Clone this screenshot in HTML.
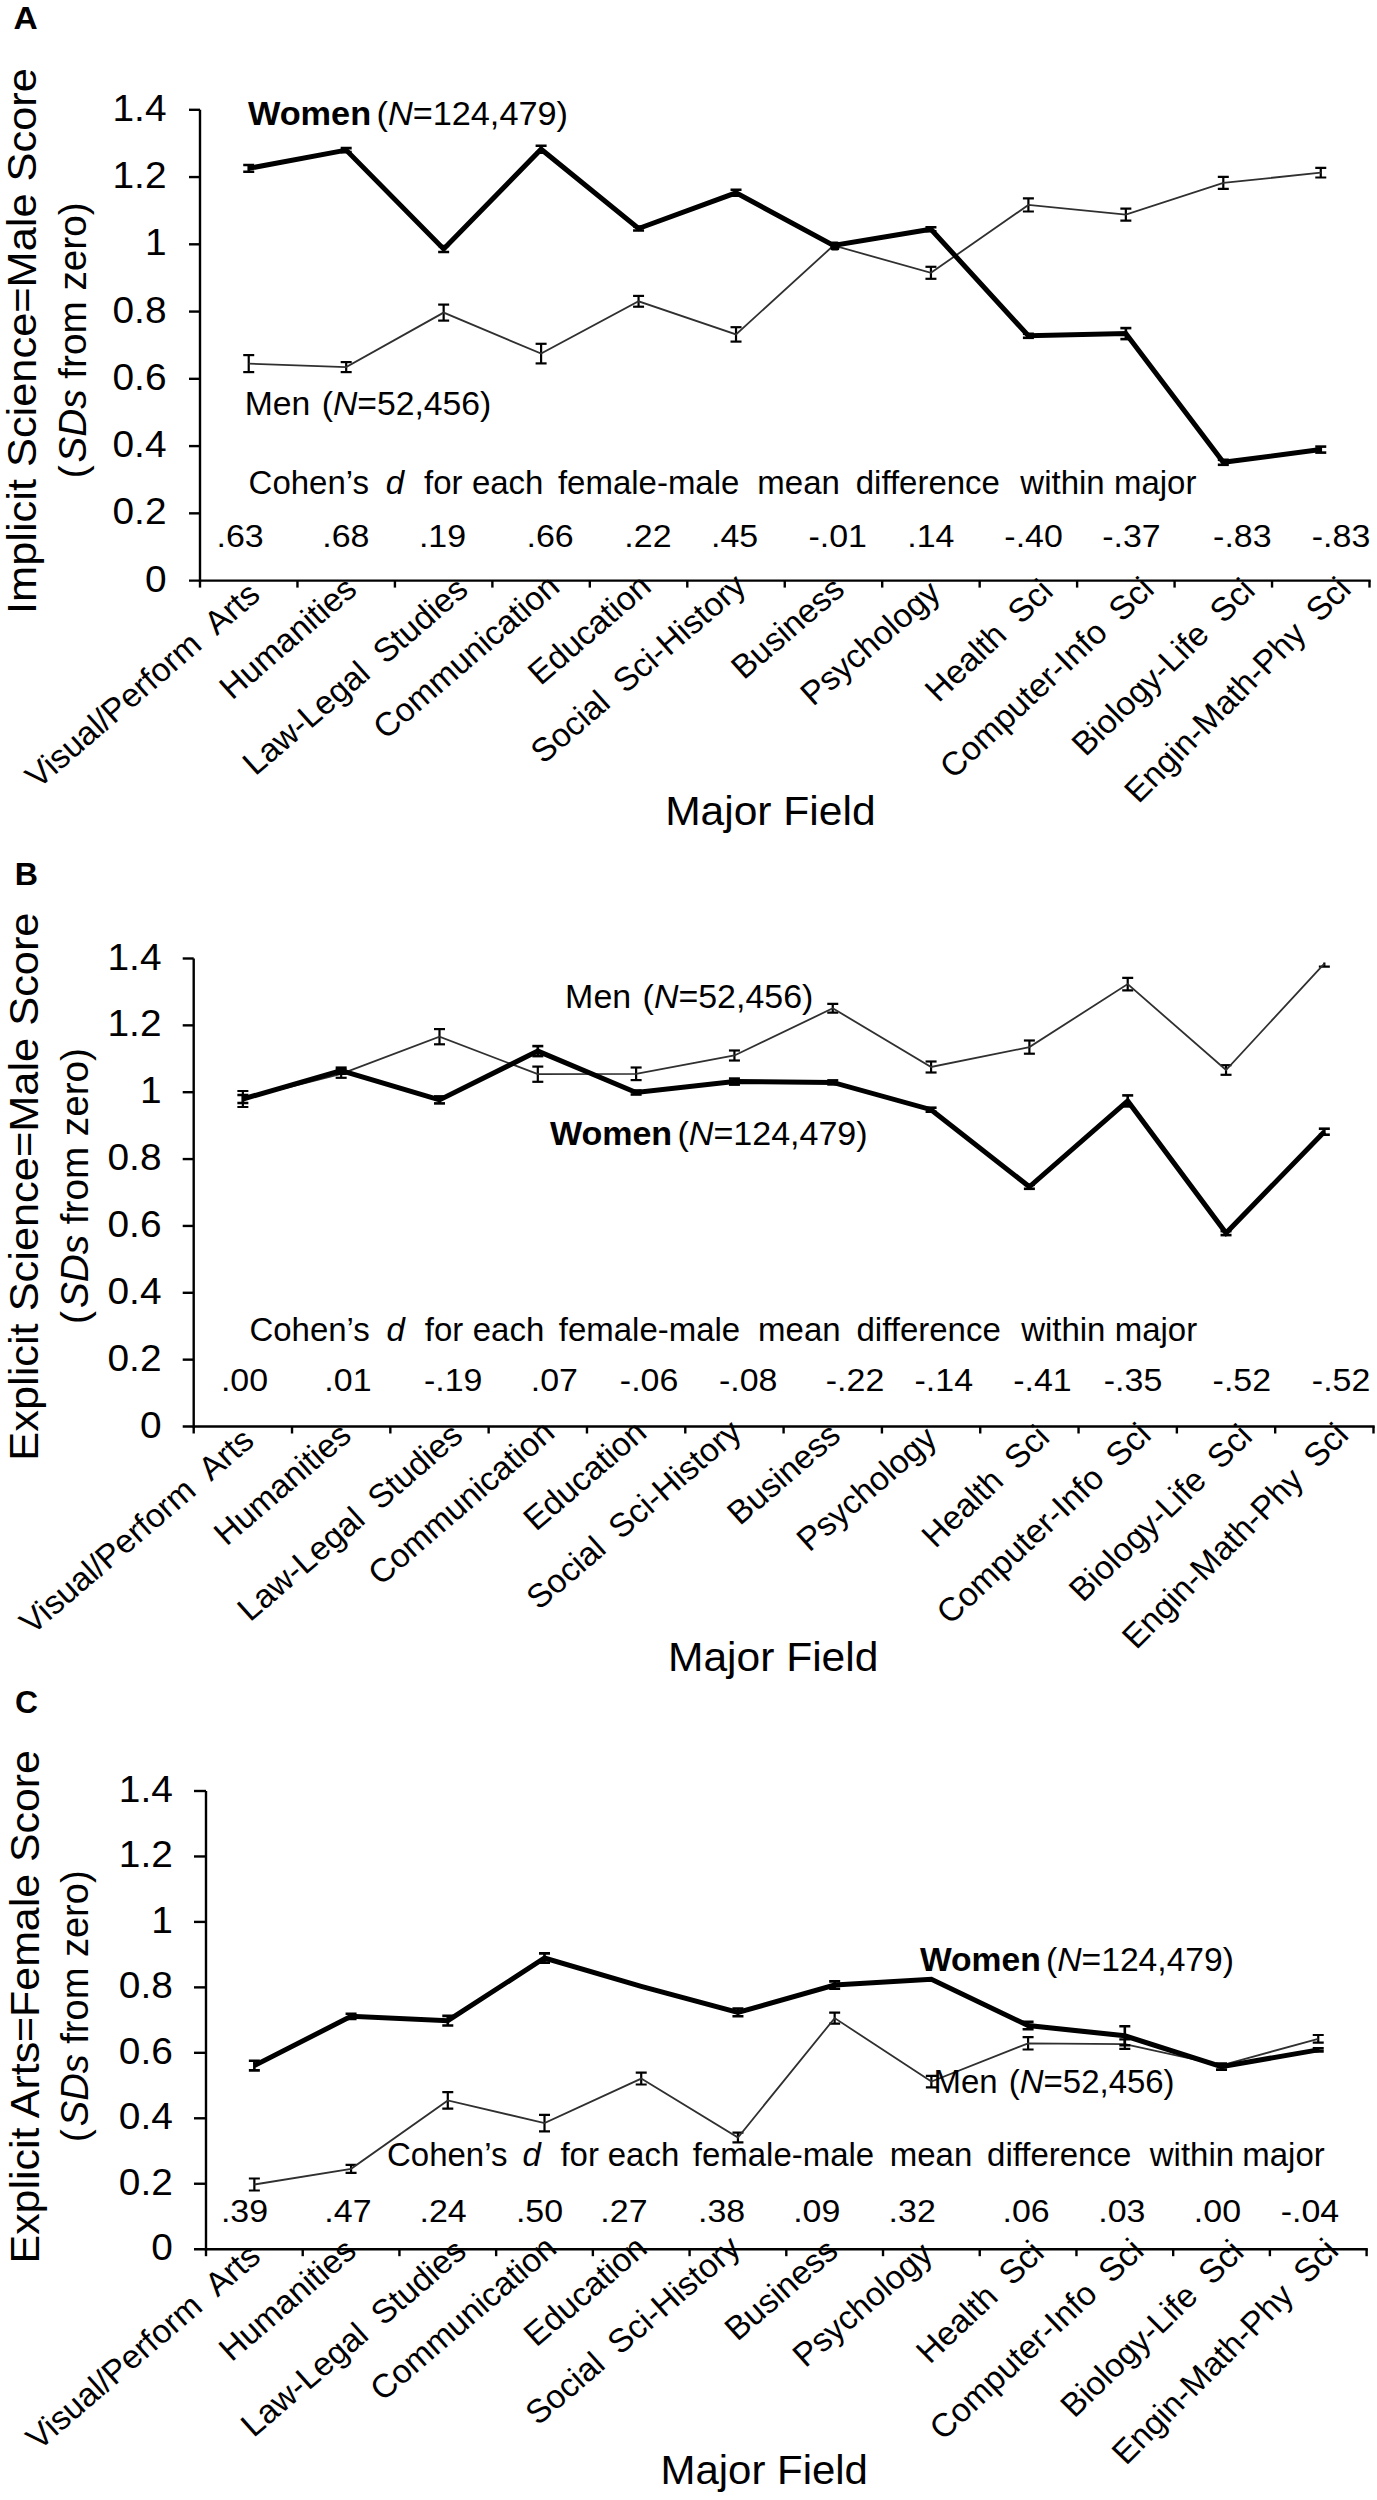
<!DOCTYPE html>
<html><head><meta charset="utf-8"><style>
html,body{margin:0;padding:0;background:#fff;overflow:hidden;width:1377px;height:2500px;}
svg{display:block;}
text{font-family:"Liberation Sans", sans-serif;fill:#000;white-space:pre;}
</style></head><body>
<svg width="1377" height="2500" viewBox="0 0 1377 2500">
<rect width="1377" height="2500" fill="#fff"/>
<line x1="200.00" y1="109.80" x2="200.00" y2="581.80" stroke="#000" stroke-width="2.4"/>
<line x1="189.00" y1="580.60" x2="1370.70" y2="580.60" stroke="#000" stroke-width="2.4"/>
<line x1="189.00" y1="513.34" x2="200.00" y2="513.34" stroke="#000" stroke-width="2.4"/>
<line x1="189.00" y1="446.09" x2="200.00" y2="446.09" stroke="#000" stroke-width="2.4"/>
<line x1="189.00" y1="378.83" x2="200.00" y2="378.83" stroke="#000" stroke-width="2.4"/>
<line x1="189.00" y1="311.57" x2="200.00" y2="311.57" stroke="#000" stroke-width="2.4"/>
<line x1="189.00" y1="244.31" x2="200.00" y2="244.31" stroke="#000" stroke-width="2.4"/>
<line x1="189.00" y1="177.06" x2="200.00" y2="177.06" stroke="#000" stroke-width="2.4"/>
<line x1="189.00" y1="109.80" x2="200.00" y2="109.80" stroke="#000" stroke-width="2.4"/>
<line x1="200.00" y1="580.60" x2="200.00" y2="587.60" stroke="#000" stroke-width="2.4"/>
<line x1="297.46" y1="580.60" x2="297.46" y2="587.60" stroke="#000" stroke-width="2.4"/>
<line x1="394.92" y1="580.60" x2="394.92" y2="587.60" stroke="#000" stroke-width="2.4"/>
<line x1="492.38" y1="580.60" x2="492.38" y2="587.60" stroke="#000" stroke-width="2.4"/>
<line x1="589.83" y1="580.60" x2="589.83" y2="587.60" stroke="#000" stroke-width="2.4"/>
<line x1="687.29" y1="580.60" x2="687.29" y2="587.60" stroke="#000" stroke-width="2.4"/>
<line x1="784.75" y1="580.60" x2="784.75" y2="587.60" stroke="#000" stroke-width="2.4"/>
<line x1="882.21" y1="580.60" x2="882.21" y2="587.60" stroke="#000" stroke-width="2.4"/>
<line x1="979.67" y1="580.60" x2="979.67" y2="587.60" stroke="#000" stroke-width="2.4"/>
<line x1="1077.12" y1="580.60" x2="1077.12" y2="587.60" stroke="#000" stroke-width="2.4"/>
<line x1="1174.58" y1="580.60" x2="1174.58" y2="587.60" stroke="#000" stroke-width="2.4"/>
<line x1="1272.04" y1="580.60" x2="1272.04" y2="587.60" stroke="#000" stroke-width="2.4"/>
<line x1="1369.50" y1="580.60" x2="1369.50" y2="587.60" stroke="#000" stroke-width="2.4"/>
<text transform="translate(166.50,591.60) scale(1.0500,1)" text-anchor="end" style="font-size:37px">0</text>
<text transform="translate(166.50,524.34) scale(1.0500,1)" text-anchor="end" style="font-size:37px">0.2</text>
<text transform="translate(166.50,457.09) scale(1.0500,1)" text-anchor="end" style="font-size:37px">0.4</text>
<text transform="translate(166.50,389.83) scale(1.0500,1)" text-anchor="end" style="font-size:37px">0.6</text>
<text transform="translate(166.50,322.57) scale(1.0500,1)" text-anchor="end" style="font-size:37px">0.8</text>
<text transform="translate(166.50,255.31) scale(1.0500,1)" text-anchor="end" style="font-size:37px">1</text>
<text transform="translate(166.50,188.06) scale(1.0500,1)" text-anchor="end" style="font-size:37px">1.2</text>
<text transform="translate(166.50,120.80) scale(1.0500,1)" text-anchor="end" style="font-size:37px">1.4</text>
<clipPath id="ca"><rect x="200" y="101.8" width="1179.5" height="478.8"/></clipPath>
<g clip-path="url(#ca)">
<line x1="248.73" y1="355.10" x2="248.73" y2="372.10" stroke="#000" stroke-width="2.2"/>
<line x1="243.23" y1="355.10" x2="254.23" y2="355.10" stroke="#000" stroke-width="2.2"/>
<line x1="243.23" y1="372.10" x2="254.23" y2="372.10" stroke="#000" stroke-width="2.2"/>
<line x1="346.19" y1="362.10" x2="346.19" y2="372.10" stroke="#000" stroke-width="2.2"/>
<line x1="340.69" y1="362.10" x2="351.69" y2="362.10" stroke="#000" stroke-width="2.2"/>
<line x1="340.69" y1="372.10" x2="351.69" y2="372.10" stroke="#000" stroke-width="2.2"/>
<line x1="443.65" y1="304.60" x2="443.65" y2="320.60" stroke="#000" stroke-width="2.2"/>
<line x1="438.15" y1="304.60" x2="449.15" y2="304.60" stroke="#000" stroke-width="2.2"/>
<line x1="438.15" y1="320.60" x2="449.15" y2="320.60" stroke="#000" stroke-width="2.2"/>
<line x1="541.10" y1="343.80" x2="541.10" y2="363.40" stroke="#000" stroke-width="2.2"/>
<line x1="535.60" y1="343.80" x2="546.60" y2="343.80" stroke="#000" stroke-width="2.2"/>
<line x1="535.60" y1="363.40" x2="546.60" y2="363.40" stroke="#000" stroke-width="2.2"/>
<line x1="638.56" y1="295.90" x2="638.56" y2="306.70" stroke="#000" stroke-width="2.2"/>
<line x1="633.06" y1="295.90" x2="644.06" y2="295.90" stroke="#000" stroke-width="2.2"/>
<line x1="633.06" y1="306.70" x2="644.06" y2="306.70" stroke="#000" stroke-width="2.2"/>
<line x1="736.02" y1="327.20" x2="736.02" y2="341.60" stroke="#000" stroke-width="2.2"/>
<line x1="730.52" y1="327.20" x2="741.52" y2="327.20" stroke="#000" stroke-width="2.2"/>
<line x1="730.52" y1="341.60" x2="741.52" y2="341.60" stroke="#000" stroke-width="2.2"/>
<line x1="930.94" y1="266.80" x2="930.94" y2="278.80" stroke="#000" stroke-width="2.2"/>
<line x1="925.44" y1="266.80" x2="936.44" y2="266.80" stroke="#000" stroke-width="2.2"/>
<line x1="925.44" y1="278.80" x2="936.44" y2="278.80" stroke="#000" stroke-width="2.2"/>
<line x1="1028.40" y1="198.30" x2="1028.40" y2="211.50" stroke="#000" stroke-width="2.2"/>
<line x1="1022.90" y1="198.30" x2="1033.90" y2="198.30" stroke="#000" stroke-width="2.2"/>
<line x1="1022.90" y1="211.50" x2="1033.90" y2="211.50" stroke="#000" stroke-width="2.2"/>
<line x1="1125.85" y1="208.60" x2="1125.85" y2="220.60" stroke="#000" stroke-width="2.2"/>
<line x1="1120.35" y1="208.60" x2="1131.35" y2="208.60" stroke="#000" stroke-width="2.2"/>
<line x1="1120.35" y1="220.60" x2="1131.35" y2="220.60" stroke="#000" stroke-width="2.2"/>
<line x1="1223.31" y1="176.90" x2="1223.31" y2="188.90" stroke="#000" stroke-width="2.2"/>
<line x1="1217.81" y1="176.90" x2="1228.81" y2="176.90" stroke="#000" stroke-width="2.2"/>
<line x1="1217.81" y1="188.90" x2="1228.81" y2="188.90" stroke="#000" stroke-width="2.2"/>
<line x1="1320.77" y1="167.90" x2="1320.77" y2="177.50" stroke="#000" stroke-width="2.2"/>
<line x1="1315.27" y1="167.90" x2="1326.27" y2="167.90" stroke="#000" stroke-width="2.2"/>
<line x1="1315.27" y1="177.50" x2="1326.27" y2="177.50" stroke="#000" stroke-width="2.2"/>
<path d="M248.73,363.60 L346.19,367.10 L443.65,312.60 L541.10,353.60 L638.56,301.30 L736.02,334.40 L833.48,245.50 L930.94,272.80 L1028.40,204.90 L1125.85,214.60 L1223.31,182.90 L1320.77,172.70" fill="none" stroke="#303030" stroke-width="1.8" stroke-linejoin="miter" stroke-miterlimit="3"/>
<line x1="248.73" y1="165.00" x2="248.73" y2="171.80" stroke="#000" stroke-width="2.6"/>
<line x1="243.23" y1="165.00" x2="254.23" y2="165.00" stroke="#000" stroke-width="2.6"/>
<line x1="243.23" y1="171.80" x2="254.23" y2="171.80" stroke="#000" stroke-width="2.6"/>
<line x1="346.19" y1="148.10" x2="346.19" y2="152.10" stroke="#000" stroke-width="2.6"/>
<line x1="340.69" y1="148.10" x2="351.69" y2="148.10" stroke="#000" stroke-width="2.6"/>
<line x1="340.69" y1="152.10" x2="351.69" y2="152.10" stroke="#000" stroke-width="2.6"/>
<line x1="443.65" y1="246.00" x2="443.65" y2="252.00" stroke="#000" stroke-width="2.6"/>
<line x1="438.15" y1="246.00" x2="449.15" y2="246.00" stroke="#000" stroke-width="2.6"/>
<line x1="438.15" y1="252.00" x2="449.15" y2="252.00" stroke="#000" stroke-width="2.6"/>
<line x1="541.10" y1="145.70" x2="541.10" y2="152.70" stroke="#000" stroke-width="2.6"/>
<line x1="535.60" y1="145.70" x2="546.60" y2="145.70" stroke="#000" stroke-width="2.6"/>
<line x1="535.60" y1="152.70" x2="546.60" y2="152.70" stroke="#000" stroke-width="2.6"/>
<line x1="638.56" y1="226.50" x2="638.56" y2="230.50" stroke="#000" stroke-width="2.6"/>
<line x1="633.06" y1="226.50" x2="644.06" y2="226.50" stroke="#000" stroke-width="2.6"/>
<line x1="633.06" y1="230.50" x2="644.06" y2="230.50" stroke="#000" stroke-width="2.6"/>
<line x1="736.02" y1="189.80" x2="736.02" y2="195.80" stroke="#000" stroke-width="2.6"/>
<line x1="730.52" y1="189.80" x2="741.52" y2="189.80" stroke="#000" stroke-width="2.6"/>
<line x1="730.52" y1="195.80" x2="741.52" y2="195.80" stroke="#000" stroke-width="2.6"/>
<line x1="930.94" y1="227.20" x2="930.94" y2="231.20" stroke="#000" stroke-width="2.6"/>
<line x1="925.44" y1="227.20" x2="936.44" y2="227.20" stroke="#000" stroke-width="2.6"/>
<line x1="925.44" y1="231.20" x2="936.44" y2="231.20" stroke="#000" stroke-width="2.6"/>
<line x1="1028.40" y1="333.80" x2="1028.40" y2="337.80" stroke="#000" stroke-width="2.6"/>
<line x1="1022.90" y1="333.80" x2="1033.90" y2="333.80" stroke="#000" stroke-width="2.6"/>
<line x1="1022.90" y1="337.80" x2="1033.90" y2="337.80" stroke="#000" stroke-width="2.6"/>
<line x1="1125.85" y1="328.10" x2="1125.85" y2="339.10" stroke="#000" stroke-width="2.6"/>
<line x1="1120.35" y1="328.10" x2="1131.35" y2="328.10" stroke="#000" stroke-width="2.6"/>
<line x1="1120.35" y1="339.10" x2="1131.35" y2="339.10" stroke="#000" stroke-width="2.6"/>
<line x1="1223.31" y1="459.80" x2="1223.31" y2="464.80" stroke="#000" stroke-width="2.6"/>
<line x1="1217.81" y1="459.80" x2="1228.81" y2="459.80" stroke="#000" stroke-width="2.6"/>
<line x1="1217.81" y1="464.80" x2="1228.81" y2="464.80" stroke="#000" stroke-width="2.6"/>
<line x1="1320.77" y1="446.60" x2="1320.77" y2="452.60" stroke="#000" stroke-width="2.6"/>
<line x1="1315.27" y1="446.60" x2="1326.27" y2="446.60" stroke="#000" stroke-width="2.6"/>
<line x1="1315.27" y1="452.60" x2="1326.27" y2="452.60" stroke="#000" stroke-width="2.6"/>
<path d="M248.73,168.40 L346.19,150.10 L443.65,249.00 L541.10,149.20 L638.56,228.50 L736.02,192.80 L833.48,245.50 L930.94,229.20 L1028.40,335.80 L1125.85,333.60 L1223.31,462.30 L1320.77,449.60" fill="none" stroke="#000" stroke-width="5.0" stroke-linejoin="miter" stroke-miterlimit="3"/>
<rect x="830.40" y="241.40" width="9" height="9" rx="2" fill="#000"/>
</g>
<text transform="translate(261.83,597.50) scale(1.0200,1) rotate(-41.2)" text-anchor="end" style="font-size:33px">Visual/Perform<tspan dx="8"> </tspan>Arts</text>
<text transform="translate(358.79,592.10) scale(1.0200,1) rotate(-41.2)" text-anchor="end" style="font-size:33px">Humanities</text>
<text transform="translate(469.85,592.50) scale(1.0200,1) rotate(-41.2)" text-anchor="end" style="font-size:33px">Law-Legal<tspan dx="8"> </tspan>Studies</text>
<text transform="translate(561.60,589.60) scale(1.0200,1) rotate(-41.2)" text-anchor="end" style="font-size:33px">Communication</text>
<text transform="translate(653.16,589.50) scale(1.0200,1) rotate(-41.2)" text-anchor="end" style="font-size:33px">Education</text>
<text transform="translate(747.82,589.20) scale(1.0200,1) rotate(-41.2)" text-anchor="end" style="font-size:33px">Social<tspan dx="8"> </tspan>Sci-History</text>
<text transform="translate(846.48,592.20) scale(1.0200,1) rotate(-41.2)" text-anchor="end" style="font-size:33px">Business</text>
<text transform="translate(942.54,595.80) scale(1.0200,1) rotate(-41.2)" text-anchor="end" style="font-size:33px">Psychology</text>
<text transform="translate(1054.80,593.40) scale(1.0200,1) rotate(-44)" text-anchor="end" style="font-size:33px">Health<tspan dx="8"> </tspan>Sci</text>
<text transform="translate(1155.85,591.40) scale(1.0200,1) rotate(-43.5)" text-anchor="end" style="font-size:33px">Computer-Info<tspan dx="8"> </tspan>Sci</text>
<text transform="translate(1256.81,592.40) scale(1.0200,1) rotate(-44.5)" text-anchor="end" style="font-size:33px">Biology-Life<tspan dx="8"> </tspan>Sci</text>
<text transform="translate(1352.77,590.90) scale(1.0200,1) rotate(-45.5)" text-anchor="end" style="font-size:33px">Engin-Math-Phy<tspan dx="8"> </tspan>Sci</text>
<line x1="193.70" y1="958.50" x2="193.70" y2="1427.70" stroke="#000" stroke-width="2.4"/>
<line x1="182.70" y1="1426.50" x2="1374.70" y2="1426.50" stroke="#000" stroke-width="2.4"/>
<line x1="182.70" y1="1359.64" x2="193.70" y2="1359.64" stroke="#000" stroke-width="2.4"/>
<line x1="182.70" y1="1292.79" x2="193.70" y2="1292.79" stroke="#000" stroke-width="2.4"/>
<line x1="182.70" y1="1225.93" x2="193.70" y2="1225.93" stroke="#000" stroke-width="2.4"/>
<line x1="182.70" y1="1159.07" x2="193.70" y2="1159.07" stroke="#000" stroke-width="2.4"/>
<line x1="182.70" y1="1092.21" x2="193.70" y2="1092.21" stroke="#000" stroke-width="2.4"/>
<line x1="182.70" y1="1025.36" x2="193.70" y2="1025.36" stroke="#000" stroke-width="2.4"/>
<line x1="182.70" y1="958.50" x2="193.70" y2="958.50" stroke="#000" stroke-width="2.4"/>
<line x1="193.70" y1="1426.50" x2="193.70" y2="1433.50" stroke="#000" stroke-width="2.4"/>
<line x1="292.02" y1="1426.50" x2="292.02" y2="1433.50" stroke="#000" stroke-width="2.4"/>
<line x1="390.33" y1="1426.50" x2="390.33" y2="1433.50" stroke="#000" stroke-width="2.4"/>
<line x1="488.65" y1="1426.50" x2="488.65" y2="1433.50" stroke="#000" stroke-width="2.4"/>
<line x1="586.97" y1="1426.50" x2="586.97" y2="1433.50" stroke="#000" stroke-width="2.4"/>
<line x1="685.28" y1="1426.50" x2="685.28" y2="1433.50" stroke="#000" stroke-width="2.4"/>
<line x1="783.60" y1="1426.50" x2="783.60" y2="1433.50" stroke="#000" stroke-width="2.4"/>
<line x1="881.92" y1="1426.50" x2="881.92" y2="1433.50" stroke="#000" stroke-width="2.4"/>
<line x1="980.23" y1="1426.50" x2="980.23" y2="1433.50" stroke="#000" stroke-width="2.4"/>
<line x1="1078.55" y1="1426.50" x2="1078.55" y2="1433.50" stroke="#000" stroke-width="2.4"/>
<line x1="1176.87" y1="1426.50" x2="1176.87" y2="1433.50" stroke="#000" stroke-width="2.4"/>
<line x1="1275.18" y1="1426.50" x2="1275.18" y2="1433.50" stroke="#000" stroke-width="2.4"/>
<line x1="1373.50" y1="1426.50" x2="1373.50" y2="1433.50" stroke="#000" stroke-width="2.4"/>
<text transform="translate(161.50,1437.50) scale(1.0500,1)" text-anchor="end" style="font-size:37px">0</text>
<text transform="translate(161.50,1370.64) scale(1.0500,1)" text-anchor="end" style="font-size:37px">0.2</text>
<text transform="translate(161.50,1303.79) scale(1.0500,1)" text-anchor="end" style="font-size:37px">0.4</text>
<text transform="translate(161.50,1236.93) scale(1.0500,1)" text-anchor="end" style="font-size:37px">0.6</text>
<text transform="translate(161.50,1170.07) scale(1.0500,1)" text-anchor="end" style="font-size:37px">0.8</text>
<text transform="translate(161.50,1103.21) scale(1.0500,1)" text-anchor="end" style="font-size:37px">1</text>
<text transform="translate(161.50,1036.36) scale(1.0500,1)" text-anchor="end" style="font-size:37px">1.2</text>
<text transform="translate(161.50,969.50) scale(1.0500,1)" text-anchor="end" style="font-size:37px">1.4</text>
<clipPath id="cb"><rect x="193.7" y="962.4" width="1189.8" height="464.1"/></clipPath>
<g clip-path="url(#cb)">
<line x1="242.86" y1="1091.00" x2="242.86" y2="1107.00" stroke="#000" stroke-width="2.2"/>
<line x1="237.36" y1="1091.00" x2="248.36" y2="1091.00" stroke="#000" stroke-width="2.2"/>
<line x1="237.36" y1="1107.00" x2="248.36" y2="1107.00" stroke="#000" stroke-width="2.2"/>
<line x1="341.17" y1="1069.80" x2="341.17" y2="1077.80" stroke="#000" stroke-width="2.2"/>
<line x1="335.67" y1="1069.80" x2="346.67" y2="1069.80" stroke="#000" stroke-width="2.2"/>
<line x1="335.67" y1="1077.80" x2="346.67" y2="1077.80" stroke="#000" stroke-width="2.2"/>
<line x1="439.49" y1="1029.10" x2="439.49" y2="1044.30" stroke="#000" stroke-width="2.2"/>
<line x1="433.99" y1="1029.10" x2="444.99" y2="1029.10" stroke="#000" stroke-width="2.2"/>
<line x1="433.99" y1="1044.30" x2="444.99" y2="1044.30" stroke="#000" stroke-width="2.2"/>
<line x1="537.81" y1="1066.60" x2="537.81" y2="1081.80" stroke="#000" stroke-width="2.2"/>
<line x1="532.31" y1="1066.60" x2="543.31" y2="1066.60" stroke="#000" stroke-width="2.2"/>
<line x1="532.31" y1="1081.80" x2="543.31" y2="1081.80" stroke="#000" stroke-width="2.2"/>
<line x1="636.12" y1="1067.50" x2="636.12" y2="1080.10" stroke="#000" stroke-width="2.2"/>
<line x1="630.62" y1="1067.50" x2="641.62" y2="1067.50" stroke="#000" stroke-width="2.2"/>
<line x1="630.62" y1="1080.10" x2="641.62" y2="1080.10" stroke="#000" stroke-width="2.2"/>
<line x1="734.44" y1="1050.50" x2="734.44" y2="1060.50" stroke="#000" stroke-width="2.2"/>
<line x1="728.94" y1="1050.50" x2="739.94" y2="1050.50" stroke="#000" stroke-width="2.2"/>
<line x1="728.94" y1="1060.50" x2="739.94" y2="1060.50" stroke="#000" stroke-width="2.2"/>
<line x1="832.76" y1="1003.90" x2="832.76" y2="1012.70" stroke="#000" stroke-width="2.2"/>
<line x1="827.26" y1="1003.90" x2="838.26" y2="1003.90" stroke="#000" stroke-width="2.2"/>
<line x1="827.26" y1="1012.70" x2="838.26" y2="1012.70" stroke="#000" stroke-width="2.2"/>
<line x1="931.08" y1="1061.50" x2="931.08" y2="1072.50" stroke="#000" stroke-width="2.2"/>
<line x1="925.58" y1="1061.50" x2="936.58" y2="1061.50" stroke="#000" stroke-width="2.2"/>
<line x1="925.58" y1="1072.50" x2="936.58" y2="1072.50" stroke="#000" stroke-width="2.2"/>
<line x1="1029.39" y1="1040.50" x2="1029.39" y2="1053.70" stroke="#000" stroke-width="2.2"/>
<line x1="1023.89" y1="1040.50" x2="1034.89" y2="1040.50" stroke="#000" stroke-width="2.2"/>
<line x1="1023.89" y1="1053.70" x2="1034.89" y2="1053.70" stroke="#000" stroke-width="2.2"/>
<line x1="1127.71" y1="977.90" x2="1127.71" y2="990.30" stroke="#000" stroke-width="2.2"/>
<line x1="1122.21" y1="977.90" x2="1133.21" y2="977.90" stroke="#000" stroke-width="2.2"/>
<line x1="1122.21" y1="990.30" x2="1133.21" y2="990.30" stroke="#000" stroke-width="2.2"/>
<line x1="1226.03" y1="1065.20" x2="1226.03" y2="1074.80" stroke="#000" stroke-width="2.2"/>
<line x1="1220.53" y1="1065.20" x2="1231.53" y2="1065.20" stroke="#000" stroke-width="2.2"/>
<line x1="1220.53" y1="1074.80" x2="1231.53" y2="1074.80" stroke="#000" stroke-width="2.2"/>
<line x1="1324.34" y1="960.60" x2="1324.34" y2="966.60" stroke="#000" stroke-width="2.2"/>
<line x1="1318.84" y1="960.60" x2="1329.84" y2="960.60" stroke="#000" stroke-width="2.2"/>
<line x1="1318.84" y1="966.60" x2="1329.84" y2="966.60" stroke="#000" stroke-width="2.2"/>
<path d="M242.86,1099.00 L341.17,1073.80 L439.49,1036.70 L537.81,1074.20 L636.12,1073.80 L734.44,1055.50 L832.76,1008.30 L931.08,1067.00 L1029.39,1047.10 L1127.71,984.10 L1226.03,1070.00 L1324.34,963.60" fill="none" stroke="#303030" stroke-width="1.8" stroke-linejoin="miter" stroke-miterlimit="3"/>
<line x1="242.86" y1="1095.00" x2="242.86" y2="1103.00" stroke="#000" stroke-width="2.6"/>
<line x1="237.36" y1="1095.00" x2="248.36" y2="1095.00" stroke="#000" stroke-width="2.6"/>
<line x1="237.36" y1="1103.00" x2="248.36" y2="1103.00" stroke="#000" stroke-width="2.6"/>
<line x1="341.17" y1="1067.70" x2="341.17" y2="1073.70" stroke="#000" stroke-width="2.6"/>
<line x1="335.67" y1="1067.70" x2="346.67" y2="1067.70" stroke="#000" stroke-width="2.6"/>
<line x1="335.67" y1="1073.70" x2="346.67" y2="1073.70" stroke="#000" stroke-width="2.6"/>
<line x1="439.49" y1="1096.40" x2="439.49" y2="1103.40" stroke="#000" stroke-width="2.6"/>
<line x1="433.99" y1="1096.40" x2="444.99" y2="1096.40" stroke="#000" stroke-width="2.6"/>
<line x1="433.99" y1="1103.40" x2="444.99" y2="1103.40" stroke="#000" stroke-width="2.6"/>
<line x1="537.81" y1="1046.10" x2="537.81" y2="1056.10" stroke="#000" stroke-width="2.6"/>
<line x1="532.31" y1="1046.10" x2="543.31" y2="1046.10" stroke="#000" stroke-width="2.6"/>
<line x1="532.31" y1="1056.10" x2="543.31" y2="1056.10" stroke="#000" stroke-width="2.6"/>
<line x1="636.12" y1="1090.50" x2="636.12" y2="1094.50" stroke="#000" stroke-width="2.6"/>
<line x1="630.62" y1="1090.50" x2="641.62" y2="1090.50" stroke="#000" stroke-width="2.6"/>
<line x1="630.62" y1="1094.50" x2="641.62" y2="1094.50" stroke="#000" stroke-width="2.6"/>
<line x1="734.44" y1="1078.60" x2="734.44" y2="1084.60" stroke="#000" stroke-width="2.6"/>
<line x1="728.94" y1="1078.60" x2="739.94" y2="1078.60" stroke="#000" stroke-width="2.6"/>
<line x1="728.94" y1="1084.60" x2="739.94" y2="1084.60" stroke="#000" stroke-width="2.6"/>
<line x1="832.76" y1="1080.40" x2="832.76" y2="1084.40" stroke="#000" stroke-width="2.6"/>
<line x1="827.26" y1="1080.40" x2="838.26" y2="1080.40" stroke="#000" stroke-width="2.6"/>
<line x1="827.26" y1="1084.40" x2="838.26" y2="1084.40" stroke="#000" stroke-width="2.6"/>
<line x1="931.08" y1="1107.70" x2="931.08" y2="1111.70" stroke="#000" stroke-width="2.6"/>
<line x1="925.58" y1="1107.70" x2="936.58" y2="1107.70" stroke="#000" stroke-width="2.6"/>
<line x1="925.58" y1="1111.70" x2="936.58" y2="1111.70" stroke="#000" stroke-width="2.6"/>
<line x1="1029.39" y1="1184.80" x2="1029.39" y2="1188.80" stroke="#000" stroke-width="2.6"/>
<line x1="1023.89" y1="1184.80" x2="1034.89" y2="1184.80" stroke="#000" stroke-width="2.6"/>
<line x1="1023.89" y1="1188.80" x2="1034.89" y2="1188.80" stroke="#000" stroke-width="2.6"/>
<line x1="1127.71" y1="1095.40" x2="1127.71" y2="1106.40" stroke="#000" stroke-width="2.6"/>
<line x1="1122.21" y1="1095.40" x2="1133.21" y2="1095.40" stroke="#000" stroke-width="2.6"/>
<line x1="1122.21" y1="1106.40" x2="1133.21" y2="1106.40" stroke="#000" stroke-width="2.6"/>
<line x1="1226.03" y1="1231.10" x2="1226.03" y2="1235.10" stroke="#000" stroke-width="2.6"/>
<line x1="1220.53" y1="1231.10" x2="1231.53" y2="1231.10" stroke="#000" stroke-width="2.6"/>
<line x1="1220.53" y1="1235.10" x2="1231.53" y2="1235.10" stroke="#000" stroke-width="2.6"/>
<line x1="1324.34" y1="1128.70" x2="1324.34" y2="1134.70" stroke="#000" stroke-width="2.6"/>
<line x1="1318.84" y1="1128.70" x2="1329.84" y2="1128.70" stroke="#000" stroke-width="2.6"/>
<line x1="1318.84" y1="1134.70" x2="1329.84" y2="1134.70" stroke="#000" stroke-width="2.6"/>
<path d="M242.86,1099.00 L341.17,1070.70 L439.49,1099.90 L537.81,1051.10 L636.12,1092.50 L734.44,1081.60 L832.76,1082.40 L931.08,1109.70 L1029.39,1186.80 L1127.71,1100.90 L1226.03,1233.10 L1324.34,1131.70" fill="none" stroke="#000" stroke-width="5.0" stroke-linejoin="miter" stroke-miterlimit="3"/>
</g>
<text transform="translate(255.96,1443.40) scale(1.0200,1) rotate(-41.2)" text-anchor="end" style="font-size:33px">Visual/Perform<tspan dx="8"> </tspan>Arts</text>
<text transform="translate(353.23,1438.00) scale(1.0200,1) rotate(-41.2)" text-anchor="end" style="font-size:33px">Humanities</text>
<text transform="translate(464.60,1438.40) scale(1.0200,1) rotate(-41.2)" text-anchor="end" style="font-size:33px">Law-Legal<tspan dx="8"> </tspan>Studies</text>
<text transform="translate(556.67,1435.50) scale(1.0200,1) rotate(-41.2)" text-anchor="end" style="font-size:33px">Communication</text>
<text transform="translate(648.54,1435.40) scale(1.0200,1) rotate(-41.2)" text-anchor="end" style="font-size:33px">Education</text>
<text transform="translate(743.51,1435.10) scale(1.0200,1) rotate(-41.2)" text-anchor="end" style="font-size:33px">Social<tspan dx="8"> </tspan>Sci-History</text>
<text transform="translate(842.49,1438.10) scale(1.0200,1) rotate(-41.2)" text-anchor="end" style="font-size:33px">Business</text>
<text transform="translate(938.86,1441.70) scale(1.0200,1) rotate(-41.2)" text-anchor="end" style="font-size:33px">Psychology</text>
<text transform="translate(1051.43,1439.30) scale(1.0200,1) rotate(-44)" text-anchor="end" style="font-size:33px">Health<tspan dx="8"> </tspan>Sci</text>
<text transform="translate(1152.80,1437.30) scale(1.0200,1) rotate(-43.5)" text-anchor="end" style="font-size:33px">Computer-Info<tspan dx="8"> </tspan>Sci</text>
<text transform="translate(1254.07,1438.30) scale(1.0200,1) rotate(-44.5)" text-anchor="end" style="font-size:33px">Biology-Life<tspan dx="8"> </tspan>Sci</text>
<text transform="translate(1350.34,1436.80) scale(1.0200,1) rotate(-45.5)" text-anchor="end" style="font-size:33px">Engin-Math-Phy<tspan dx="8"> </tspan>Sci</text>
<line x1="206.00" y1="1791.00" x2="206.00" y2="2250.40" stroke="#000" stroke-width="2.4"/>
<line x1="194.00" y1="2249.20" x2="1367.80" y2="2249.20" stroke="#000" stroke-width="2.4"/>
<line x1="194.00" y1="2183.74" x2="206.00" y2="2183.74" stroke="#000" stroke-width="2.4"/>
<line x1="194.00" y1="2118.29" x2="206.00" y2="2118.29" stroke="#000" stroke-width="2.4"/>
<line x1="194.00" y1="2052.83" x2="206.00" y2="2052.83" stroke="#000" stroke-width="2.4"/>
<line x1="194.00" y1="1987.37" x2="206.00" y2="1987.37" stroke="#000" stroke-width="2.4"/>
<line x1="194.00" y1="1921.91" x2="206.00" y2="1921.91" stroke="#000" stroke-width="2.4"/>
<line x1="194.00" y1="1856.46" x2="206.00" y2="1856.46" stroke="#000" stroke-width="2.4"/>
<line x1="194.00" y1="1791.00" x2="206.00" y2="1791.00" stroke="#000" stroke-width="2.4"/>
<line x1="206.00" y1="2249.20" x2="206.00" y2="2256.20" stroke="#000" stroke-width="2.4"/>
<line x1="302.72" y1="2249.20" x2="302.72" y2="2256.20" stroke="#000" stroke-width="2.4"/>
<line x1="399.43" y1="2249.20" x2="399.43" y2="2256.20" stroke="#000" stroke-width="2.4"/>
<line x1="496.15" y1="2249.20" x2="496.15" y2="2256.20" stroke="#000" stroke-width="2.4"/>
<line x1="592.87" y1="2249.20" x2="592.87" y2="2256.20" stroke="#000" stroke-width="2.4"/>
<line x1="689.58" y1="2249.20" x2="689.58" y2="2256.20" stroke="#000" stroke-width="2.4"/>
<line x1="786.30" y1="2249.20" x2="786.30" y2="2256.20" stroke="#000" stroke-width="2.4"/>
<line x1="883.02" y1="2249.20" x2="883.02" y2="2256.20" stroke="#000" stroke-width="2.4"/>
<line x1="979.73" y1="2249.20" x2="979.73" y2="2256.20" stroke="#000" stroke-width="2.4"/>
<line x1="1076.45" y1="2249.20" x2="1076.45" y2="2256.20" stroke="#000" stroke-width="2.4"/>
<line x1="1173.17" y1="2249.20" x2="1173.17" y2="2256.20" stroke="#000" stroke-width="2.4"/>
<line x1="1269.88" y1="2249.20" x2="1269.88" y2="2256.20" stroke="#000" stroke-width="2.4"/>
<line x1="1366.60" y1="2249.20" x2="1366.60" y2="2256.20" stroke="#000" stroke-width="2.4"/>
<text transform="translate(172.80,2260.20) scale(1.0500,1)" text-anchor="end" style="font-size:37px">0</text>
<text transform="translate(172.80,2194.74) scale(1.0500,1)" text-anchor="end" style="font-size:37px">0.2</text>
<text transform="translate(172.80,2129.29) scale(1.0500,1)" text-anchor="end" style="font-size:37px">0.4</text>
<text transform="translate(172.80,2063.83) scale(1.0500,1)" text-anchor="end" style="font-size:37px">0.6</text>
<text transform="translate(172.80,1998.37) scale(1.0500,1)" text-anchor="end" style="font-size:37px">0.8</text>
<text transform="translate(172.80,1932.91) scale(1.0500,1)" text-anchor="end" style="font-size:37px">1</text>
<text transform="translate(172.80,1867.46) scale(1.0500,1)" text-anchor="end" style="font-size:37px">1.2</text>
<text transform="translate(172.80,1802.00) scale(1.0500,1)" text-anchor="end" style="font-size:37px">1.4</text>
<clipPath id="cc"><rect x="206" y="1783" width="1170.6" height="466.1999999999998"/></clipPath>
<g clip-path="url(#cc)">
<line x1="254.36" y1="2178.50" x2="254.36" y2="2190.50" stroke="#000" stroke-width="2.2"/>
<line x1="248.86" y1="2178.50" x2="259.86" y2="2178.50" stroke="#000" stroke-width="2.2"/>
<line x1="248.86" y1="2190.50" x2="259.86" y2="2190.50" stroke="#000" stroke-width="2.2"/>
<line x1="351.07" y1="2164.80" x2="351.07" y2="2172.80" stroke="#000" stroke-width="2.2"/>
<line x1="345.57" y1="2164.80" x2="356.57" y2="2164.80" stroke="#000" stroke-width="2.2"/>
<line x1="345.57" y1="2172.80" x2="356.57" y2="2172.80" stroke="#000" stroke-width="2.2"/>
<line x1="447.79" y1="2092.10" x2="447.79" y2="2108.70" stroke="#000" stroke-width="2.2"/>
<line x1="442.29" y1="2092.10" x2="453.29" y2="2092.10" stroke="#000" stroke-width="2.2"/>
<line x1="442.29" y1="2108.70" x2="453.29" y2="2108.70" stroke="#000" stroke-width="2.2"/>
<line x1="544.51" y1="2114.80" x2="544.51" y2="2131.40" stroke="#000" stroke-width="2.2"/>
<line x1="539.01" y1="2114.80" x2="550.01" y2="2114.80" stroke="#000" stroke-width="2.2"/>
<line x1="539.01" y1="2131.40" x2="550.01" y2="2131.40" stroke="#000" stroke-width="2.2"/>
<line x1="641.22" y1="2072.70" x2="641.22" y2="2084.50" stroke="#000" stroke-width="2.2"/>
<line x1="635.72" y1="2072.70" x2="646.72" y2="2072.70" stroke="#000" stroke-width="2.2"/>
<line x1="635.72" y1="2084.50" x2="646.72" y2="2084.50" stroke="#000" stroke-width="2.2"/>
<line x1="737.94" y1="2132.70" x2="737.94" y2="2142.30" stroke="#000" stroke-width="2.2"/>
<line x1="732.44" y1="2132.70" x2="743.44" y2="2132.70" stroke="#000" stroke-width="2.2"/>
<line x1="732.44" y1="2142.30" x2="743.44" y2="2142.30" stroke="#000" stroke-width="2.2"/>
<line x1="834.66" y1="2012.60" x2="834.66" y2="2023.60" stroke="#000" stroke-width="2.2"/>
<line x1="829.16" y1="2012.60" x2="840.16" y2="2012.60" stroke="#000" stroke-width="2.2"/>
<line x1="829.16" y1="2023.60" x2="840.16" y2="2023.60" stroke="#000" stroke-width="2.2"/>
<line x1="931.37" y1="2075.90" x2="931.37" y2="2087.30" stroke="#000" stroke-width="2.2"/>
<line x1="925.87" y1="2075.90" x2="936.87" y2="2075.90" stroke="#000" stroke-width="2.2"/>
<line x1="925.87" y1="2087.30" x2="936.87" y2="2087.30" stroke="#000" stroke-width="2.2"/>
<line x1="1028.09" y1="2037.10" x2="1028.09" y2="2049.50" stroke="#000" stroke-width="2.2"/>
<line x1="1022.59" y1="2037.10" x2="1033.59" y2="2037.10" stroke="#000" stroke-width="2.2"/>
<line x1="1022.59" y1="2049.50" x2="1033.59" y2="2049.50" stroke="#000" stroke-width="2.2"/>
<line x1="1124.81" y1="2039.30" x2="1124.81" y2="2048.90" stroke="#000" stroke-width="2.2"/>
<line x1="1119.31" y1="2039.30" x2="1130.31" y2="2039.30" stroke="#000" stroke-width="2.2"/>
<line x1="1119.31" y1="2048.90" x2="1130.31" y2="2048.90" stroke="#000" stroke-width="2.2"/>
<line x1="1318.24" y1="2035.00" x2="1318.24" y2="2042.60" stroke="#000" stroke-width="2.2"/>
<line x1="1312.74" y1="2035.00" x2="1323.74" y2="2035.00" stroke="#000" stroke-width="2.2"/>
<line x1="1312.74" y1="2042.60" x2="1323.74" y2="2042.60" stroke="#000" stroke-width="2.2"/>
<path d="M254.36,2184.50 L351.07,2168.80 L447.79,2100.40 L544.51,2123.10 L641.22,2078.60 L737.94,2137.50 L834.66,2018.10 L931.37,2081.60 L1028.09,2043.30 L1124.81,2044.10 L1221.52,2065.30 L1318.24,2038.80" fill="none" stroke="#303030" stroke-width="1.8" stroke-linejoin="miter" stroke-miterlimit="3"/>
<line x1="254.36" y1="2060.80" x2="254.36" y2="2070.40" stroke="#000" stroke-width="2.6"/>
<line x1="248.86" y1="2060.80" x2="259.86" y2="2060.80" stroke="#000" stroke-width="2.6"/>
<line x1="248.86" y1="2070.40" x2="259.86" y2="2070.40" stroke="#000" stroke-width="2.6"/>
<line x1="351.07" y1="2013.70" x2="351.07" y2="2018.90" stroke="#000" stroke-width="2.6"/>
<line x1="345.57" y1="2013.70" x2="356.57" y2="2013.70" stroke="#000" stroke-width="2.6"/>
<line x1="345.57" y1="2018.90" x2="356.57" y2="2018.90" stroke="#000" stroke-width="2.6"/>
<line x1="447.79" y1="2015.90" x2="447.79" y2="2025.50" stroke="#000" stroke-width="2.6"/>
<line x1="442.29" y1="2015.90" x2="453.29" y2="2015.90" stroke="#000" stroke-width="2.6"/>
<line x1="442.29" y1="2025.50" x2="453.29" y2="2025.50" stroke="#000" stroke-width="2.6"/>
<line x1="544.51" y1="1953.40" x2="544.51" y2="1962.60" stroke="#000" stroke-width="2.6"/>
<line x1="539.01" y1="1953.40" x2="550.01" y2="1953.40" stroke="#000" stroke-width="2.6"/>
<line x1="539.01" y1="1962.60" x2="550.01" y2="1962.60" stroke="#000" stroke-width="2.6"/>
<line x1="737.94" y1="2008.50" x2="737.94" y2="2016.30" stroke="#000" stroke-width="2.6"/>
<line x1="732.44" y1="2008.50" x2="743.44" y2="2008.50" stroke="#000" stroke-width="2.6"/>
<line x1="732.44" y1="2016.30" x2="743.44" y2="2016.30" stroke="#000" stroke-width="2.6"/>
<line x1="834.66" y1="1981.40" x2="834.66" y2="1988.80" stroke="#000" stroke-width="2.6"/>
<line x1="829.16" y1="1981.40" x2="840.16" y2="1981.40" stroke="#000" stroke-width="2.6"/>
<line x1="829.16" y1="1988.80" x2="840.16" y2="1988.80" stroke="#000" stroke-width="2.6"/>
<line x1="1028.09" y1="2021.90" x2="1028.09" y2="2029.30" stroke="#000" stroke-width="2.6"/>
<line x1="1022.59" y1="2021.90" x2="1033.59" y2="2021.90" stroke="#000" stroke-width="2.6"/>
<line x1="1022.59" y1="2029.30" x2="1033.59" y2="2029.30" stroke="#000" stroke-width="2.6"/>
<line x1="1124.81" y1="2026.30" x2="1124.81" y2="2045.30" stroke="#000" stroke-width="2.6"/>
<line x1="1119.31" y1="2026.30" x2="1130.31" y2="2026.30" stroke="#000" stroke-width="2.6"/>
<line x1="1119.31" y1="2045.30" x2="1130.31" y2="2045.30" stroke="#000" stroke-width="2.6"/>
<line x1="1221.52" y1="2063.60" x2="1221.52" y2="2069.60" stroke="#000" stroke-width="2.6"/>
<line x1="1216.02" y1="2063.60" x2="1227.02" y2="2063.60" stroke="#000" stroke-width="2.6"/>
<line x1="1216.02" y1="2069.60" x2="1227.02" y2="2069.60" stroke="#000" stroke-width="2.6"/>
<line x1="1318.24" y1="2048.40" x2="1318.24" y2="2051.40" stroke="#000" stroke-width="2.6"/>
<line x1="1312.74" y1="2048.40" x2="1323.74" y2="2048.40" stroke="#000" stroke-width="2.6"/>
<line x1="1312.74" y1="2051.40" x2="1323.74" y2="2051.40" stroke="#000" stroke-width="2.6"/>
<path d="M254.36,2065.60 L351.07,2016.30 L447.79,2020.70 L544.51,1958.00 L641.22,1986.30 L737.94,2012.40 L834.66,1985.10 L931.37,1979.30 L1028.09,2025.60 L1124.81,2035.80 L1221.52,2066.60 L1318.24,2049.90" fill="none" stroke="#000" stroke-width="5.0" stroke-linejoin="miter" stroke-miterlimit="3"/>
</g>
<text transform="translate(262.46,2259.10) scale(1.0200,1) rotate(-41.2)" text-anchor="end" style="font-size:33px">Visual/Perform<tspan dx="8"> </tspan>Arts</text>
<text transform="translate(358.22,2253.70) scale(1.0200,1) rotate(-41.2)" text-anchor="end" style="font-size:33px">Humanities</text>
<text transform="translate(468.08,2254.10) scale(1.0200,1) rotate(-41.2)" text-anchor="end" style="font-size:33px">Law-Legal<tspan dx="8"> </tspan>Studies</text>
<text transform="translate(558.64,2251.20) scale(1.0200,1) rotate(-41.2)" text-anchor="end" style="font-size:33px">Communication</text>
<text transform="translate(649.01,2251.10) scale(1.0200,1) rotate(-41.2)" text-anchor="end" style="font-size:33px">Education</text>
<text transform="translate(742.47,2250.80) scale(1.0200,1) rotate(-41.2)" text-anchor="end" style="font-size:33px">Social<tspan dx="8"> </tspan>Sci-History</text>
<text transform="translate(839.93,2253.80) scale(1.0200,1) rotate(-41.2)" text-anchor="end" style="font-size:33px">Business</text>
<text transform="translate(934.79,2257.40) scale(1.0200,1) rotate(-41.2)" text-anchor="end" style="font-size:33px">Psychology</text>
<text transform="translate(1045.86,2255.00) scale(1.0200,1) rotate(-44)" text-anchor="end" style="font-size:33px">Health<tspan dx="8"> </tspan>Sci</text>
<text transform="translate(1145.72,2253.00) scale(1.0200,1) rotate(-43.5)" text-anchor="end" style="font-size:33px">Computer-Info<tspan dx="8"> </tspan>Sci</text>
<text transform="translate(1245.48,2254.00) scale(1.0200,1) rotate(-44.5)" text-anchor="end" style="font-size:33px">Biology-Life<tspan dx="8"> </tspan>Sci</text>
<text transform="translate(1340.24,2252.50) scale(1.0200,1) rotate(-45.5)" text-anchor="end" style="font-size:33px">Engin-Math-Phy<tspan dx="8"> </tspan>Sci</text>
<text transform="translate(248.62,494.20) scale(1.0150,1)" style="font-size:32.5px">Cohen’s</text>
<text transform="translate(385.78,494.20) scale(1.0150,1)" style="font-size:32.5px"><tspan font-style="italic">d</tspan></text>
<text transform="translate(424.04,494.20) scale(1.0150,1)" style="font-size:32.5px">for</text>
<text transform="translate(471.91,494.20) scale(1.0150,1)" style="font-size:32.5px">each</text>
<text transform="translate(557.94,494.20) scale(1.0150,1)" style="font-size:32.5px">female-male</text>
<text transform="translate(757.32,494.20) scale(1.0150,1)" style="font-size:32.5px">mean</text>
<text transform="translate(855.71,494.20) scale(1.0150,1)" style="font-size:32.5px">difference</text>
<text transform="translate(1020.33,494.20) scale(1.0150,1)" style="font-size:32.5px">within</text>
<text transform="translate(1113.92,494.20) scale(1.0150,1)" style="font-size:32.5px">major</text>
<text transform="translate(249.42,1340.80) scale(1.0150,1)" style="font-size:32.5px">Cohen’s</text>
<text transform="translate(386.58,1340.80) scale(1.0150,1)" style="font-size:32.5px"><tspan font-style="italic">d</tspan></text>
<text transform="translate(424.84,1340.80) scale(1.0150,1)" style="font-size:32.5px">for</text>
<text transform="translate(472.71,1340.80) scale(1.0150,1)" style="font-size:32.5px">each</text>
<text transform="translate(558.74,1340.80) scale(1.0150,1)" style="font-size:32.5px">female-male</text>
<text transform="translate(758.12,1340.80) scale(1.0150,1)" style="font-size:32.5px">mean</text>
<text transform="translate(856.51,1340.80) scale(1.0150,1)" style="font-size:32.5px">difference</text>
<text transform="translate(1021.13,1340.80) scale(1.0150,1)" style="font-size:32.5px">within</text>
<text transform="translate(1114.72,1340.80) scale(1.0150,1)" style="font-size:32.5px">major</text>
<text transform="translate(387.02,2165.80) scale(1.0150,1)" style="font-size:32.5px">Cohen’s</text>
<text transform="translate(522.59,2165.80) scale(1.0150,1)" style="font-size:32.5px"><tspan font-style="italic">d</tspan></text>
<text transform="translate(560.41,2165.80) scale(1.0150,1)" style="font-size:32.5px">for</text>
<text transform="translate(607.72,2165.80) scale(1.0150,1)" style="font-size:32.5px">each</text>
<text transform="translate(692.76,2165.80) scale(1.0150,1)" style="font-size:32.5px">female-male</text>
<text transform="translate(889.80,2165.80) scale(1.0150,1)" style="font-size:32.5px">mean</text>
<text transform="translate(987.06,2165.80) scale(1.0150,1)" style="font-size:32.5px">difference</text>
<text transform="translate(1149.78,2165.80) scale(1.0150,1)" style="font-size:32.5px">within</text>
<text transform="translate(1242.26,2165.80) scale(1.0150,1)" style="font-size:32.5px">major</text>
<text transform="translate(13.43,28.80) scale(1.0667,1)" style="font-size:31.5px;font-weight:bold">A</text>
<text transform="translate(14.86,885.20) scale(1.0211,1)" style="font-size:31.5px;font-weight:bold">B</text>
<text transform="translate(14.99,1713.30) scale(1.0095,1)" style="font-size:31.5px;font-weight:bold">C</text>
<text transform="translate(247.90,124.90) scale(1.0395,1)" style="font-size:33px"><tspan font-weight="bold">Women</tspan><tspan dx="-4"> (</tspan><tspan font-style="italic">N</tspan>=124,479)</text>
<text transform="translate(244.63,415.30) scale(1.0219,1)" style="font-size:33px">Men<tspan dx="2"> (</tspan><tspan font-style="italic">N</tspan>=52,456)</text>
<text transform="translate(565.12,1008.40) scale(1.0283,1)" style="font-size:33px">Men<tspan dx="2"> (</tspan><tspan font-style="italic">N</tspan>=52,456)</text>
<text transform="translate(549.90,1144.60) scale(1.0314,1)" style="font-size:33px"><tspan font-weight="bold">Women</tspan><tspan dx="-4"> (</tspan><tspan font-style="italic">N</tspan>=124,479)</text>
<text transform="translate(919.90,1970.50) scale(1.0199,1)" style="font-size:33px"><tspan font-weight="bold">Women</tspan><tspan dx="-4"> (</tspan><tspan font-style="italic">N</tspan>=124,479)</text>
<text transform="translate(933.60,2092.60) scale(0.9987,1)" style="font-size:33px">Men<tspan dx="2"> (</tspan><tspan font-style="italic">N</tspan>=52,456)</text>
<text transform="translate(665.15,825.10) scale(1.0508,1)" style="font-size:40.5px">Major Field</text>
<text transform="translate(668.05,1670.60) scale(1.0503,1)" style="font-size:40.5px">Major Field</text>
<text transform="translate(660.49,2483.80) scale(1.0359,1)" style="font-size:40.5px">Major Field</text>
<text transform="translate(35.50,613.93) rotate(-90) scale(1.0578,1)" style="font-size:41px">Implicit Science=Male Score</text>
<text transform="translate(85.50,478.34) rotate(-90) scale(1.0176,1)" style="font-size:38px">(<tspan dx="3" font-style="italic">SDs</tspan> from zero)</text>
<text transform="translate(37.70,1460.67) rotate(-90) scale(1.0575,1)" style="font-size:41px">Explicit Science=Male Score</text>
<text transform="translate(87.70,1323.94) rotate(-90) scale(1.0180,1)" style="font-size:38px">(<tspan dx="3" font-style="italic">SDs</tspan> from zero)</text>
<text transform="translate(38.50,2263.44) rotate(-90) scale(1.0457,1)" style="font-size:41px">Explicit Arts=Female Score</text>
<text transform="translate(88.30,2141.90) rotate(-90) scale(1.0015,1)" style="font-size:38px">(<tspan dx="3" font-style="italic">SDs</tspan> from zero)</text>
<text transform="translate(216.50,546.50) scale(1.1136,1)" style="font-size:30.5px">.63</text>
<text transform="translate(322.25,546.50) scale(1.1136,1)" style="font-size:30.5px">.68</text>
<text transform="translate(418.90,546.50) scale(1.1136,1)" style="font-size:30.5px">.19</text>
<text transform="translate(526.50,546.50) scale(1.1136,1)" style="font-size:30.5px">.66</text>
<text transform="translate(624.35,546.50) scale(1.1136,1)" style="font-size:30.5px">.22</text>
<text transform="translate(711.05,546.50) scale(1.1136,1)" style="font-size:30.5px">.45</text>
<text transform="translate(808.50,546.50) scale(1.1136,1)" style="font-size:30.5px">-.01</text>
<text transform="translate(907.24,546.50) scale(1.1136,1)" style="font-size:30.5px">.14</text>
<text transform="translate(1004.35,546.50) scale(1.1136,1)" style="font-size:30.5px">-.40</text>
<text transform="translate(1102.25,546.50) scale(1.1136,1)" style="font-size:30.5px">-.37</text>
<text transform="translate(1213.10,546.50) scale(1.1136,1)" style="font-size:30.5px">-.83</text>
<text transform="translate(1311.80,546.50) scale(1.1136,1)" style="font-size:30.5px">-.83</text>
<text transform="translate(220.90,1390.70) scale(1.1136,1)" style="font-size:30.5px">.00</text>
<text transform="translate(324.35,1390.70) scale(1.1136,1)" style="font-size:30.5px">.01</text>
<text transform="translate(423.95,1390.70) scale(1.1136,1)" style="font-size:30.5px">-.19</text>
<text transform="translate(530.80,1390.70) scale(1.1136,1)" style="font-size:30.5px">.07</text>
<text transform="translate(619.85,1390.70) scale(1.1136,1)" style="font-size:30.5px">-.06</text>
<text transform="translate(719.00,1390.70) scale(1.1136,1)" style="font-size:30.5px">-.08</text>
<text transform="translate(825.80,1390.70) scale(1.1136,1)" style="font-size:30.5px">-.22</text>
<text transform="translate(914.54,1390.70) scale(1.1136,1)" style="font-size:30.5px">-.14</text>
<text transform="translate(1013.20,1390.70) scale(1.1136,1)" style="font-size:30.5px">-.41</text>
<text transform="translate(1103.80,1390.70) scale(1.1136,1)" style="font-size:30.5px">-.35</text>
<text transform="translate(1212.60,1390.70) scale(1.1136,1)" style="font-size:30.5px">-.52</text>
<text transform="translate(1311.85,1390.70) scale(1.1136,1)" style="font-size:30.5px">-.52</text>
<text transform="translate(220.90,2221.80) scale(1.1136,1)" style="font-size:30.5px">.39</text>
<text transform="translate(324.35,2221.80) scale(1.1136,1)" style="font-size:30.5px">.47</text>
<text transform="translate(419.49,2221.80) scale(1.1136,1)" style="font-size:30.5px">.24</text>
<text transform="translate(515.90,2221.80) scale(1.1136,1)" style="font-size:30.5px">.50</text>
<text transform="translate(600.35,2221.80) scale(1.1136,1)" style="font-size:30.5px">.27</text>
<text transform="translate(697.95,2221.80) scale(1.1136,1)" style="font-size:30.5px">.38</text>
<text transform="translate(793.15,2221.80) scale(1.1136,1)" style="font-size:30.5px">.09</text>
<text transform="translate(888.60,2221.80) scale(1.1136,1)" style="font-size:30.5px">.32</text>
<text transform="translate(1002.50,2221.80) scale(1.1136,1)" style="font-size:30.5px">.06</text>
<text transform="translate(1098.20,2221.80) scale(1.1136,1)" style="font-size:30.5px">.03</text>
<text transform="translate(1193.85,2221.80) scale(1.1136,1)" style="font-size:30.5px">.00</text>
<text transform="translate(1280.74,2221.80) scale(1.1136,1)" style="font-size:30.5px">-.04</text>
</svg></body></html>
